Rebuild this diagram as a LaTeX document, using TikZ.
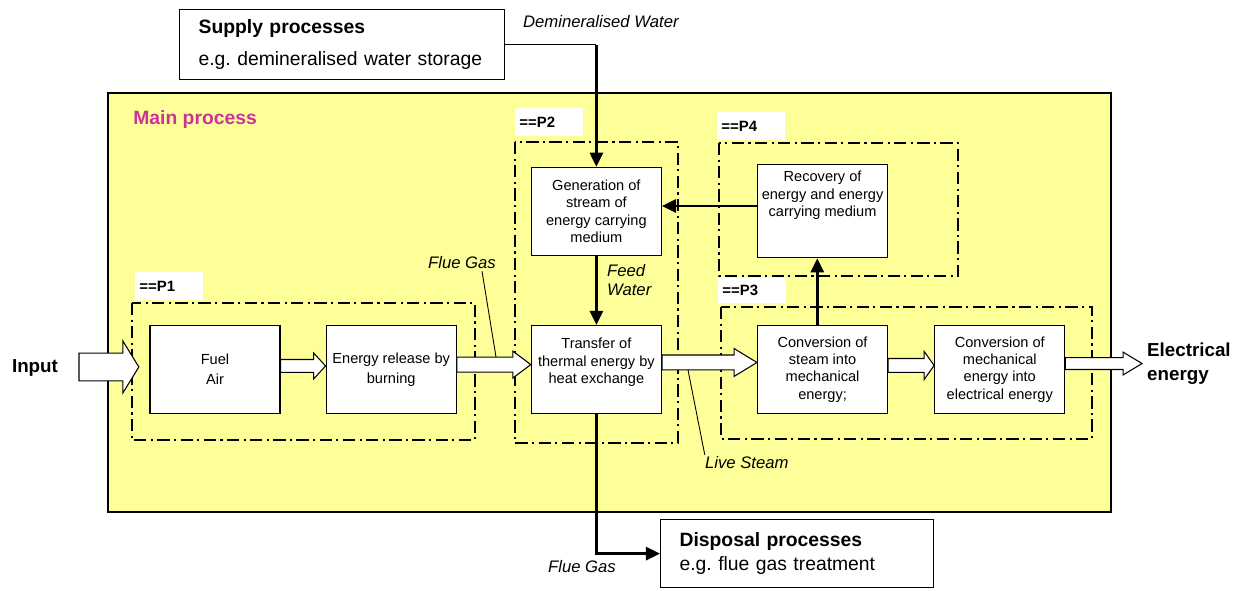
\documentclass[tikz,border=0pt]{standalone}
\usepackage{fontspec}
\setmainfont{Liberation Sans}
\usetikzlibrary{positioning,arrows.meta,calc}
\frenchspacing
\definecolor{mainyellow}{RGB}{255,255,153}
\definecolor{mainmagenta}{RGB}{204,51,153}
\def\pxu{0.567pt}
% block arrow: tail, tip, shaft half, head half, head length (px)
\newcommand{\fatarrow}[5]{%
  \draw[fatarr] let \p1=#1, \p2=#2 in
    (\x1,\y1+#3*\pxu) -- (\x2-#5*\pxu,\y1+#3*\pxu) -- (\x2-#5*\pxu,\y1+#4*\pxu)
    -- (\x2,\y1) -- (\x2-#5*\pxu,\y1-#4*\pxu) -- (\x2-#5*\pxu,\y1-#3*\pxu)
    -- (\x1,\y1-#3*\pxu) -- cycle;}

\begin{document}
\begin{tikzpicture}[
    x=0.02cm, y=-0.02cm,
    font=\fontsize{8.3}{9.9}\selectfont,
    box/.style={
      draw, fill=white, line width=0.7pt, align=center,
      minimum width=2.6cm, minimum height=1.76cm, inner sep=2pt
    },
    bigbox/.style={
      draw, fill=white, line width=0.7pt, align=left, anchor=north west,
      inner xsep=0.38cm, font=\fontsize{11}{13}\selectfont
    },
    group/.style={line width=1.6pt, dash pattern=on 7pt off 2.5pt on 1.2pt off 2.5pt},
    plabel/.style={
      fill=white, anchor=north west, text width=1.2cm, inner xsep=0.08cm,
      minimum height=0.56cm, align=left, font=\fontsize{8.5}{10}\selectfont\bfseries
    },
    flow/.style={-{Triangle[length=8pt,width=7.5pt]}, line width=1.4pt},
    fatarr/.style={draw, fill=white, line width=0.6pt},
    leader/.style={line width=0.5pt},
    tag/.style={inner sep=1pt, font=\fontsize{9.5}{11.3}\selectfont\itshape}
  ]
  \useasboundingbox (0,0) rectangle (1241,591);

  % main process area
  \draw[fill=mainyellow, line width=0.6pt] (108,93) rectangle (1111,512);
  \node[anchor=west, inner sep=0, text=mainmagenta, font=\fontsize{11}{13}\selectfont\bfseries]
    (mainlab) at (133,120) {Main process};

  % sub-process groups
  \draw[group] (132,303) rectangle (475,440);
  \draw[group] (515,142) rectangle (678,443);
  \draw[group] (719,143) rectangle (958,276);
  \draw[group] (721,307) rectangle (1092,439);
  \node[plabel] (p1lab) at (135,272) {==P1};
  \node[plabel] (p2lab) at (515,108) {==P2};
  \node[plabel] (p4lab) at (717,112) {==P4};
  \node[plabel, minimum height=0.5cm] (p3lab) at (718,278) {==P3};

  % process steps
  \node[box] (fuel) at (215,369.5) {Fuel\\[1.6pt]Air};
  \node[box, right=0.9cm of fuel] (burn) {Energy release by\\[1.6pt]burning};
  \node[box, right=1.48cm of burn] (heat) {Transfer of\\thermal energy by\\heat exchange\\~};
  \node[box, right=1.9cm of heat] (steam) {Conversion of\\steam into\\mechanical\\energy;};
  \node[box, right=0.92cm of steam] (elec) {Conversion of\\mechanical\\energy into\\electrical energy};
  \node[box, above=1.38cm of heat] (gen) {Generation of\\stream of\\energy carrying\\medium};
  \node[box, right=1.9cm of gen, minimum height=1.86cm] (recov)
    {Recovery of\\energy and energy\\carrying medium\\~\\~};

  % supply and disposal
  \node[bigbox, minimum width=6.5cm, minimum height=1.4cm, text width=5.74cm] (supply) at (179,9)
    {\textbf{Supply processes}\\[5pt]e.g. demineralised water storage};
  \node[bigbox, minimum width=5.46cm, minimum height=1.36cm, text width=4.7cm] (disp) at (660,519)
    {\textbf{Disposal processes}\\[1pt]e.g. flue gas treatment};

  % in and out
  \node[font=\fontsize{10.7}{12}\selectfont\bfseries] (input) at (35,368) {Input};
  \node[anchor=west, align=left, inner sep=1pt, font=\fontsize{10.7}{13.5}\selectfont\bfseries]
    (output) at (1145,364) {Electrical\\energy};
  \coordinate (inp) at (79,367);
  \coordinate (outp) at (1142,364);

  % block arrows
  \fatarrow{(inp)}{([xshift=-6pt,yshift=1.4pt]fuel.west)}{14}{26}{16}
  \fatarrow{([yshift=2pt]fuel.east)}{([yshift=2pt]burn.west)}{6.5}{13}{12}
  \fatarrow{([yshift=2.8pt]burn.east)}{([yshift=2.8pt]heat.west)}{7.5}{13.5}{18}
  \fatarrow{([yshift=4pt]heat.east)}{([yshift=4pt]steam.west)}{7.5}{14}{23}
  \fatarrow{([yshift=2.3pt]steam.east)}{([yshift=2.3pt]elec.west)}{7}{14}{10}
  \fatarrow{([yshift=3.4pt]elec.east)}{(outp)}{6}{11.5}{19}

  % media flows
  \coordinate (dwturn) at (gen.north |- supply.east);
  \draw[line width=0.6pt] (supply.east) -- (dwturn);
  \draw[flow] (dwturn) -- (gen.north);
  \draw[flow] (gen.south) -- (heat.north);
  \draw[flow] ([yshift=3pt]recov.west) -- ([yshift=3pt]gen.east);
  \draw[flow] ([xshift=-3pt]steam.north) -- ([xshift=-3pt]recov.south);
  \draw[flow] (heat.south) |- (disp.west);

  % medium labels
  \node[tag, anchor=west] (dwlab) at (521,22) {Demineralised Water};
  \node[tag, anchor=west, align=left] (fw) at (605,280) {Feed\\Water};
  \node[tag] (fgin) at (462,263) {Flue Gas};
  \node[tag, anchor=west] (ls) at (703,463) {Live Steam};
  \node[tag, anchor=west] (fgout) at (546,567) {Flue Gas};
  \coordinate (fgtip) at (496,357);
  \coordinate (lstip) at (688,370);
  \draw[leader] ([xshift=0.4cm]fgin.south) -- (fgtip);
  \draw[leader] (lstip) -- ([xshift=1pt]ls.north west);
\end{tikzpicture}
\end{document}
